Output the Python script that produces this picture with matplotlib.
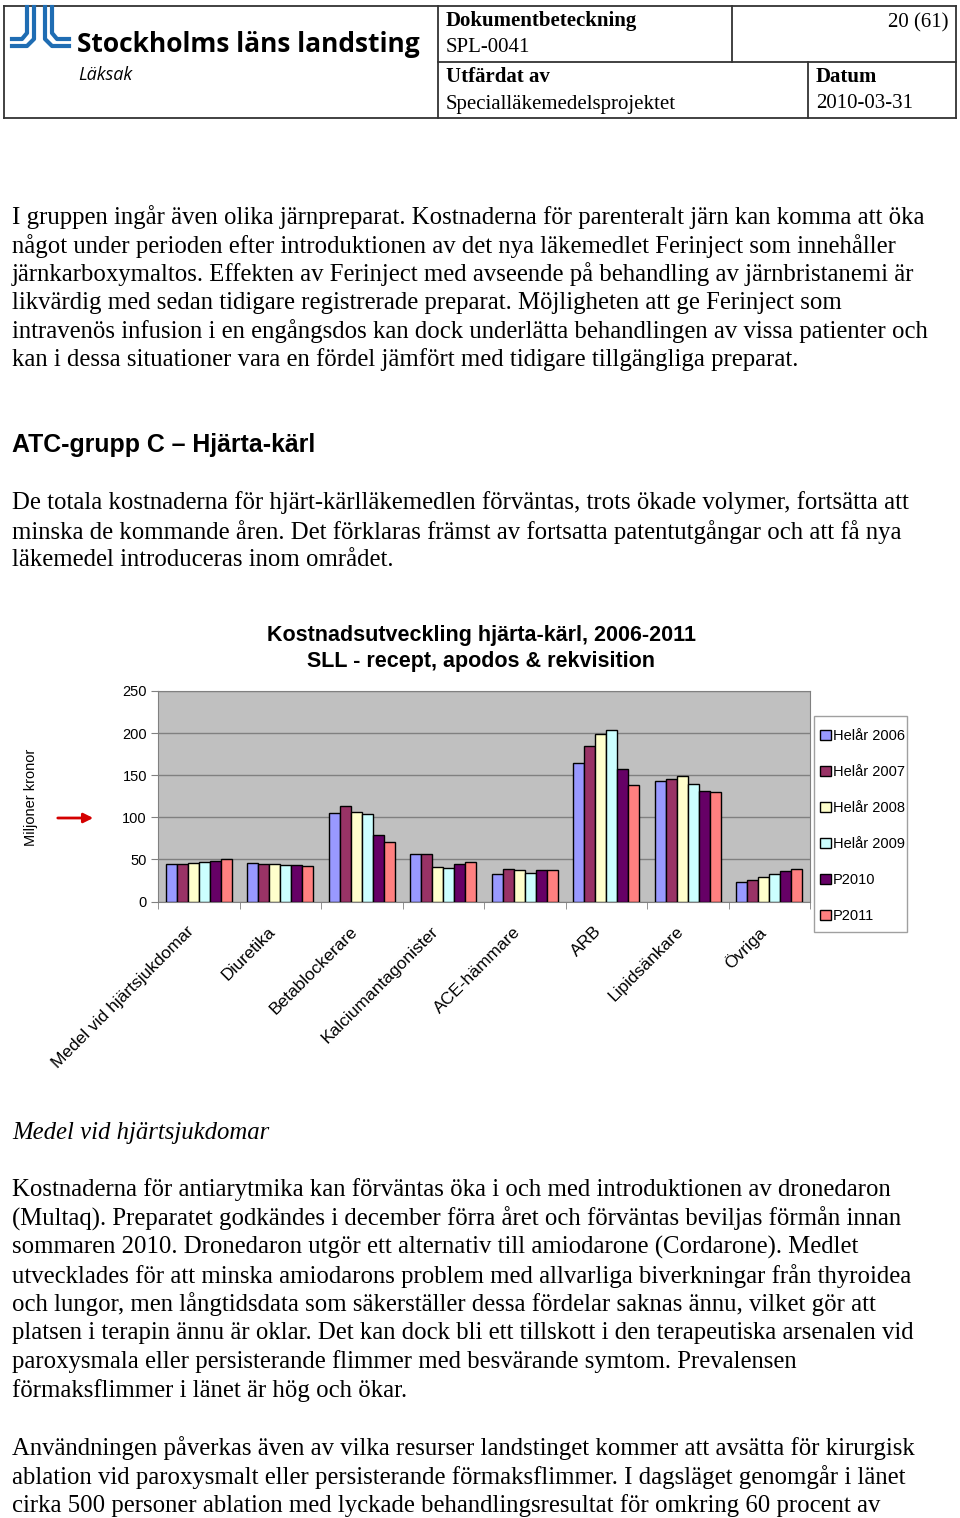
import numpy as np
import matplotlib
matplotlib.use("Agg")
import matplotlib.pyplot as plt
from matplotlib.patches import Rectangle, FancyArrowPatch

W, H = 960, 1518

categories = ["Medel vid hjärtsjukdomar", "Diuretika", "Betablockerare",
              "Kalciumantagonister", "ACE-hämmare", "ARB", "Lipidsänkare", "Övriga"]
series_names = ["Helår 2006", "Helår 2007", "Helår 2008", "Helår 2009", "P2010", "P2011"]
helar_2006 = [44, 46, 105, 57, 33, 165, 143, 23]
helar_2007 = [44, 45, 113, 57, 39, 185, 145, 26]
helar_2008 = [46, 45, 106, 41, 38, 199, 149, 29]
helar_2009 = [47, 43, 104, 40, 34, 204, 140, 33]
p2010 = [48, 43, 79, 44, 37, 157, 131, 36]
p2011 = [51, 42, 71, 47, 37, 138, 130, 39]
colors = ["#9999FF", "#993366", "#FFFFCC", "#CCFFFF", "#660066", "#FF8080"]

para1 = ["I gruppen ingår även olika järnpreparat. Kostnaderna för parenteralt järn kan komma att öka",
         "något under perioden efter introduktionen av det nya läkemedlet Ferinject som innehåller",
         "järnkarboxymaltos. Effekten av Ferinject med avseende på behandling av järnbristanemi är",
         "likvärdig med sedan tidigare registrerade preparat. Möjligheten att ge Ferinject som",
         "intravenös infusion i en engångsdos kan dock underlätta behandlingen av vissa patienter och",
         "kan i dessa situationer vara en fördel jämfört med tidigare tillgängliga preparat."]
para2 = ["De totala kostnaderna för hjärt-kärlläkemedlen förväntas, trots ökade volymer, fortsätta att",
         "minska de kommande åren. Det förklaras främst av fortsatta patentutgångar och att få nya",
         "läkemedel introduceras inom området."]
para3 = ["Kostnaderna för antiarytmika kan förväntas öka i och med introduktionen av dronedaron",
         "(Multaq). Preparatet godkändes i december förra året och förväntas beviljas förmån innan",
         "sommaren 2010. Dronedaron utgör ett alternativ till amiodarone (Cordarone). Medlet",
         "utvecklades för att minska amiodarons problem med allvarliga biverkningar från thyroidea",
         "och lungor, men långtidsdata som säkerställer dessa fördelar saknas ännu, vilket gör att",
         "platsen i terapin ännu är oklar. Det kan dock bli ett tillskott i den terapeutiska arsenalen vid",
         "paroxysmala eller persisterande flimmer med besvärande symtom. Prevalensen",
         "förmaksflimmer i länet är hög och ökar."]
para4 = ["Användningen påverkas även av vilka resurser landstinget kommer att avsätta för kirurgisk",
         "ablation vid paroxysmalt eller persisterande förmaksflimmer. I dagsläget genomgår i länet",
         "cirka 500 personer ablation med lyckade behandlingsresultat för omkring 60 procent av"]

serif = "Liberation Serif"
sans = "Liberation Sans"

fig = plt.figure(figsize=(W / 100, H / 100), dpi=100)
fig.patch.set_facecolor("white")


def fx(x):
    return x / W


def fy(y):
    return 1 - y / H


def txt(x, y, s, **kw):
    kw.setdefault("family", serif)
    kw.setdefault("fontsize", 17.8)
    kw.setdefault("va", "center")
    fig.text(fx(x), fy(y), s, **kw)


def hline(x0, x1, y, **kw):
    fig.add_artist(plt.Line2D([fx(x0), fx(x1)], [fy(y), fy(y)], color="#333333", lw=1.3, **kw))


def vline(x, y0, y1, **kw):
    fig.add_artist(plt.Line2D([fx(x), fx(x)], [fy(y0), fy(y1)], color="#333333", lw=1.3, **kw))


# header box
hline(4, 956, 6)
hline(4, 956, 118)
hline(438, 956, 62)
vline(4, 6, 118)
vline(956, 6, 118)
vline(438, 6, 118)
vline(732, 6, 62)
vline(808, 62, 118)

txt(446, 21, "Dokumentbeteckning", fontweight="bold", fontsize=15)
txt(446, 48, "SPL-0041", fontsize=15)
txt(948, 23, "20 (61)", fontsize=15, ha="right")
txt(446, 77, "Utfärdat av", fontweight="bold", fontsize=15)
txt(446, 104, "Specialläkemedelsprojektet", fontsize=15)
txt(816, 77, "Datum", fontweight="bold", fontsize=15)
txt(816, 104, "2010-03-31", fontsize=15)

# logo
blue = "#1f6db3"
for xs, ys in [([27, 27, 22, 12], [7, 33, 39, 39]),
               ([34, 34, 27, 12], [7, 39, 46, 46]),
               ([52, 52, 57, 69], [7, 33, 39, 39]),
               ([45, 45, 52, 69], [7, 39, 46, 46])]:
    fig.add_artist(plt.Line2D([fx(v) for v in xs], [fy(v) for v in ys],
                              color=blue, lw=3.0, solid_joinstyle="round"))
txt(77, 45, "Stockholms läns landsting", family="Open Sans", fontweight="bold", fontsize=19)
txt(78, 75, "Läksak", family="Open Sans", style="italic", fontsize=13)

# body text
for i, s in enumerate(para1):
    txt(12, 217 + i * 28.6, s)
txt(12, 445, "ATC-grupp C – Hjärta-kärl", family=sans, fontweight="bold", fontsize=17.9)
for i, s in enumerate(para2):
    txt(12, 503 + i * 28.6, s)
txt(12, 1133, "Medel vid hjärtsjukdomar", style="italic", fontsize=17.8)
for i, s in enumerate(para3):
    txt(12, 1190 + i * 28.6, s)
for i, s in enumerate(para4):
    txt(12, 1448 + i * 28.6, s)

# chart
txt(481, 635, "Kostnadsutveckling hjärta-kärl, 2006-2011", family=sans, fontweight="bold",
    fontsize=15.5, ha="center")
txt(481, 662, "SLL - recept, apodos & rekvisition", family=sans, fontweight="bold",
    fontsize=15.5, ha="center")

ax = fig.add_axes([fx(158), fy(901.5), fx(810 - 158), (901.5 - 691) / H])
ax.set_facecolor("#C0C0C0")
data = [helar_2006, helar_2007, helar_2008, helar_2009, p2010, p2011]
x = np.arange(len(categories))
bw = 0.134
for k, (vals, c, name) in enumerate(zip(data, colors, series_names)):
    ax.bar(x + (k - 2.5) * bw, vals, bw, color=c, edgecolor="black", lw=1.0,
           label=name, zorder=3)
ax.set_xlim(-0.5, len(categories) - 0.5)
ax.set_ylim(0, 250)
ax.set_yticks(range(0, 251, 50))
ax.grid(axis="y", color="#808080", lw=1.0, zorder=1)
# label anchors sit a little left of the group centre, like Excel's slanted labels
ax.set_xticks(x - 0.15)
ax.set_xticklabels(categories, rotation=45, ha="right", rotation_mode="anchor",
                   family=sans, fontsize=12.5)
ax.tick_params(axis="x", length=0, pad=16)
ax.set_xticks(np.arange(-0.5, len(categories)), minor=True)
ax.tick_params(axis="x", which="minor", length=5, color="#808080")
ax.tick_params(axis="y", length=5, color="#808080", pad=3)
for lab in ax.get_yticklabels():
    lab.set_family(sans)
    lab.set_fontsize(10.5)
for side in ["top", "right", "left", "bottom"]:
    ax.spines[side].set_color("#808080")

txt(31, 797, "Miljoner kronor", family=sans, fontsize=10.5, rotation=90, ha="center")
fig.add_artist(FancyArrowPatch((fx(55), fy(818)), (fx(96), fy(818)),
                               transform=fig.transFigure,
                               arrowstyle="-|>", mutation_scale=14,
                               color="#d40000", lw=2))

# legend: frame drawn separately
fig.add_artist(Rectangle((fx(814), fy(932)), fx(907 - 814), (932 - 716) / H,
                         transform=fig.transFigure, fill=False,
                         edgecolor="#a0a0a0", lw=1.0))
leg = fig.legend(loc="upper left", bbox_to_anchor=(fx(820), fy(729)), frameon=False,
                 borderaxespad=0, borderpad=0,
                 handlelength=0.72, handleheight=0.72, handletextpad=0.15,
                 labelspacing=1.51,
                 prop={"family": sans, "size": 10.5})

fig.savefig("out.png", dpi=100)
